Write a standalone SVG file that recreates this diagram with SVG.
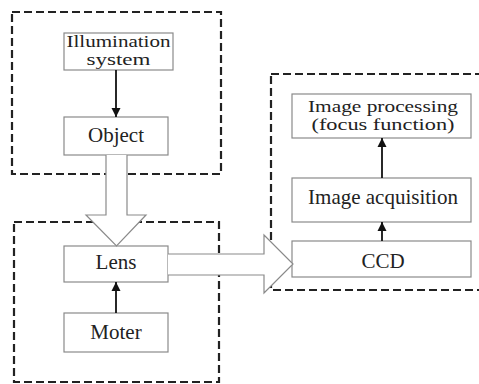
<svg xmlns="http://www.w3.org/2000/svg" width="479" height="384" viewBox="0 0 479 384">
<defs>
<style>
.grp{fill:none;stroke:#222;stroke-width:2.2;stroke-dasharray:8,4}
.box{fill:#fff;stroke:#8a8a8a;stroke-width:1.2}
.hollow{fill:#fff;stroke:#8a8a8a;stroke-width:1.2}
.lbl{font-family:"Liberation Serif","Times New Roman",serif;font-size:21px;fill:#222;text-anchor:middle}
.sm{font-size:16px}
.ln{stroke:#111;stroke-width:1.8;fill:none}
</style>
<marker id="ah" viewBox="0 0 10 10" refX="10" refY="5" markerWidth="5" markerHeight="6" markerUnits="strokeWidth" orient="auto">
<path d="M0,0 L10,5 L0,10 z" fill="#111"/>
</marker>
</defs>
<rect width="479" height="384" fill="#fff"/>
<g id="groups">
<rect class="grp" x="12" y="12" width="209" height="162"/>
<rect class="grp" x="14" y="222" width="205" height="160"/>
<rect class="grp" x="271" y="74" width="215" height="216"/>
</g>
<g id="illumination">
<rect class="box" x="64" y="33" width="109" height="37"/>
<text class="lbl sm" x="118.5" y="47" textLength="104" lengthAdjust="spacingAndGlyphs">Illumination</text>
<text class="lbl sm" x="118.5" y="65" textLength="64" lengthAdjust="spacingAndGlyphs">system</text>
</g>
<g id="object">
<rect class="box" x="64" y="117" width="104" height="38"/>
<text class="lbl" x="116" y="142">Object</text>
</g>
<g id="lens">
<rect class="box" x="64" y="246" width="104" height="36"/>
<text class="lbl" x="116" y="269">Lens</text>
</g>
<g id="moter">
<rect class="box" x="64" y="313" width="104" height="39"/>
<text class="lbl" x="116" y="339">Moter</text>
</g>
<g id="processing">
<rect class="box" x="292" y="94" width="179" height="44"/>
<text class="lbl sm" x="383" y="112" textLength="150" lengthAdjust="spacingAndGlyphs">Image processing</text>
<text class="lbl sm" x="383" y="130" textLength="143" lengthAdjust="spacingAndGlyphs">(focus function)</text>
</g>
<g id="acquisition">
<rect class="box" x="292" y="178" width="179" height="44"/>
<text class="lbl" x="383" y="204">Image acquisition</text>
</g>
<g id="ccd">
<rect class="box" x="292" y="241" width="179" height="36"/>
<text class="lbl" x="383" y="268">CCD</text>
</g>
<g id="connectors">
<line class="ln" x1="116" y1="70" x2="116" y2="117" marker-end="url(#ah)"/>
<line class="ln" x1="116" y1="313" x2="116" y2="282" marker-end="url(#ah)"/>
<line class="ln" x1="382" y1="178" x2="382" y2="138" marker-end="url(#ah)"/>
<line class="ln" x1="382" y1="241" x2="382" y2="222" marker-end="url(#ah)"/>
<path class="hollow" d="M106,155 L106,215 L86,215 L116.5,246 L146,215 L127,215 L127,155"/>
<path class="hollow" d="M168,254 L264,254 L264,235 L293,264 L264,293 L264,275 L168,275"/>
</g>
</svg>
